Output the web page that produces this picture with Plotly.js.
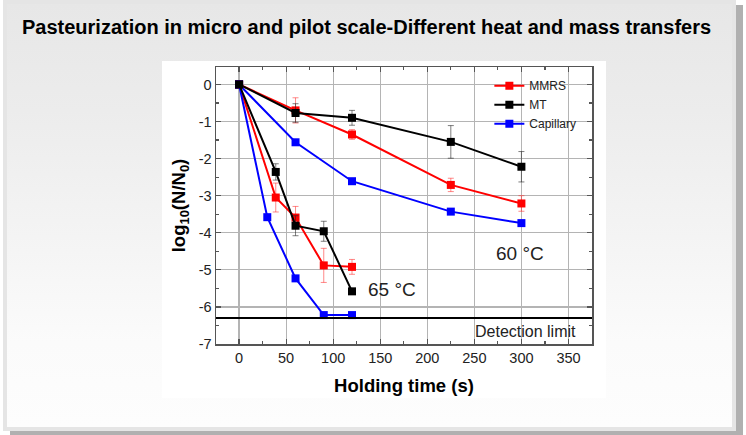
<!DOCTYPE html>
<html>
<head>
<meta charset="utf-8">
<script src="https://cdn.plot.ly/plotly-3.0.1.min.js"></script>
<style>
  html, body { margin: 0; padding: 0; background: #ffffff; }
  #wrap { position: relative; width: 746px; height: 435px; overflow: hidden; }
  #panel { position: absolute; left: 3px; top: 0px; width: 725px; height: 423px;
    border: 4px solid #e5e5e5;
    background: linear-gradient(to bottom, #e7e7e7 0%, #ececec 25%, #f4f4f4 55%, #fbfbfb 80%, #fdfdfd 100%);
    box-shadow: 7px 5px 0 #b0b0b0; }
  #box { position: absolute; left: 162px; top: 61px; width: 444px; height: 337px; background: #ffffff; }
  #chart { position: absolute; left: 0; top: 0; width: 746px; height: 435px; }
</style>
</head>
<body>
<div id="wrap">
  <div id="panel"></div>
  <div id="box"></div>
  <div id="chart"></div>
</div>
<script>
// ---- data ----
const time60 = [0, 60, 120, 225, 300];
const mmrs60 = [0, -0.70, -1.35, -2.71, -3.21];
const mmrs60Err = [0, 0.34, 0.13, 0.18, 0.21];
const mt60 = [0, -0.77, -0.90, -1.55, -2.22];
const mt60Err = [0, 0.25, 0.20, 0.44, 0.41];
const cap60 = [0, -1.56, -2.61, -3.43, -3.74];

const timeMmrs65 = [0, 39, 60, 90, 120];
const mmrs65 = [0, -3.05, -3.59, -4.88, -4.92];
const mmrs65Err = [0, 0.39, 0.30, 0.46, 0.20];
const timeMt65 = [0, 39, 60, 90, 120];
const mt65 = [0, -2.36, -3.81, -3.96, -5.58];
const mt65Err = [0, 0.22, 0.27, 0.27, 0];
const timeCap65 = [0, 30, 60, 90, 120];
const cap65 = [0, -3.58, -5.23, -6.22, -6.22];

const detectionLimit = -6.3;

const yTickVals = [0, -1, -2, -3, -4, -5, -6, -7];
const yTickText = ['0', '-1', '-2', '-3', '-4', '-5', '-6', '-7'];
const xTickVals = [0, 50, 100, 150, 200, 250, 300, 350];

const seriesNames = ['MMRS', 'MT', 'Capillary'];
const colors = {MMRS: '#ff0000', MT: '#000000', Capillary: '#0000ff'};
const errColors = {MMRS: 'rgba(255,40,40,0.55)', MT: 'rgba(40,40,40,0.6)'};

function tr(name, x, y, err, showLegend, rank) {
  const t = {
    type: 'scatter', mode: 'lines+markers', name: name,
    x: x, y: y, showlegend: showLegend, legendrank: rank,
    line: {color: colors[name], width: 2},
    marker: {symbol: 'square', size: 8, color: colors[name]},
    hoverinfo: 'x+y'
  };
  if (err) {
    t.error_y = {type: 'data', array: err, visible: true, color: errColors[name], thickness: 1, width: 3};
  }
  return t;
}

const traces = [
  tr('MMRS', time60, mmrs60, mmrs60Err, true, 1),
  tr('Capillary', time60, cap60, null, true, 3),
  tr('MT', time60, mt60, mt60Err, true, 2),
  tr('MMRS', timeMmrs65, mmrs65, mmrs65Err, false, 1),
  tr('Capillary', timeCap65, cap65, null, false, 3),
  tr('MT', timeMt65, mt65, mt65Err, false, 2)
];

const axisCommon = {
  showline: true, linecolor: '#555555', linewidth: 1.5, mirror: 'ticks',
  ticks: 'inside', ticklen: 5, tickwidth: 1.2, tickcolor: '#555555',
  showgrid: true, gridcolor: '#b4b4b4', gridwidth: 1.2, zeroline: false,
  tickfont: {family: 'Liberation Sans, Arial, sans-serif', size: 14.5, color: '#222222'}
};

const layout = {
  width: 746, height: 435,
  paper_bgcolor: 'rgba(0,0,0,0)', plot_bgcolor: '#ffffff',
  margin: {l: 216, r: 154, t: 67, b: 91, pad: 0},
  font: {family: 'Liberation Sans, Arial, sans-serif', color: '#000000'},
  title: {
    text: 'Pasteurization in micro and pilot scale-Different heat and mass transfers',
    font: {family: 'Liberation Sans, Arial, sans-serif', size: 20, weight: 700, color: '#000000'},
    x: 22 / 746, xanchor: 'left', xref: 'container',
    y: 1 - 27 / 435, yanchor: 'middle', yref: 'container'
  },
  xaxis: Object.assign({}, axisCommon, {
    range: [-24.5, 375], tickvals: xTickVals,
    minor: {dtick: 25, tick0: 0, ticks: 'inside', ticklen: 3, tickcolor: '#555555', showgrid: false},
    title: {text: 'Holding time (s)', standoff: 14,
      font: {family: 'Liberation Sans, Arial, sans-serif', size: 18.5, weight: 700, color: '#000000'}}
  }),
  yaxis: Object.assign({}, axisCommon, {
    range: [-7, 0.47], tickvals: yTickVals, ticktext: yTickText,
    minor: {dtick: 0.5, tick0: 0, ticks: 'inside', ticklen: 3, tickcolor: '#555555', showgrid: false},
    title: {text: 'log<sub>10</sub>(N/N<sub>0</sub>)', standoff: 8,
      font: {family: 'Liberation Sans, Arial, sans-serif', size: 18.5, weight: 700, color: '#000000'}}
  }),
  legend: {
    x: 0.727, y: 0.985, xanchor: 'left', yanchor: 'top',
    bgcolor: 'rgba(0,0,0,0)', borderwidth: 0,
    font: {family: 'Liberation Sans, Arial, sans-serif', size: 12, color: '#222222'},
    itemwidth: 30, tracegroupgap: 0
  },
  shapes: [
    {type: 'line', xref: 'paper', yref: 'y', x0: 0, x1: 1, y0: detectionLimit, y1: detectionLimit,
     line: {color: '#000000', width: 2}}
  ],
  annotations: [
    {text: '60 °C', x: 299, y: -4.57, xref: 'x', yref: 'y', showarrow: false,
     font: {family: 'Liberation Sans, Arial, sans-serif', size: 19, color: '#222222'}},
    {text: '65 °C', x: 162.5, y: -5.52, xref: 'x', yref: 'y', showarrow: false,
     font: {family: 'Liberation Sans, Arial, sans-serif', size: 19, color: '#222222'}},
    {text: 'Detection limit', x: 304.7, y: -6.67, xref: 'x', yref: 'y', showarrow: false,
     font: {family: 'Liberation Sans, Arial, sans-serif', size: 16, color: '#222222'}}
  ]
};

Plotly.newPlot('chart', traces, layout, {displayModeBar: false, staticPlot: true});
</script>
</body>
</html>
